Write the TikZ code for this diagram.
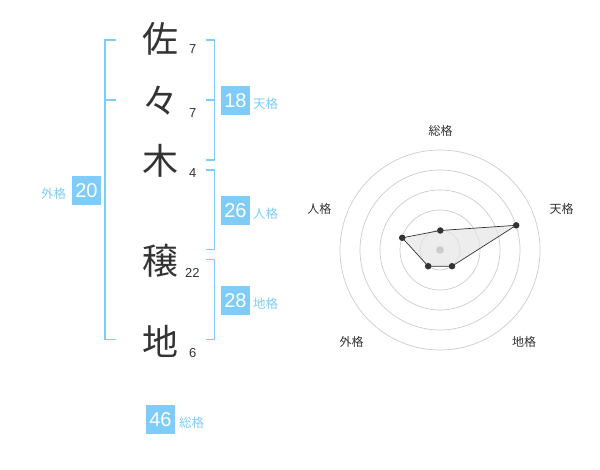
\documentclass[tikz,border=0pt]{standalone}
\usepackage{fontspec}
\setmainfont{Liberation Sans}
\newfontfamily\jp{Noto Sans CJK JP}
\definecolor{sky}{HTML}{80CCF8}
\definecolor{ink}{HTML}{333333}
\begin{document}
\begin{tikzpicture}[x=1pt,y=-1pt,
 kanji/.style={font=\jp\fontsize{36}{36}\selectfont, text=ink, inner sep=0pt},
 strokes/.style={font=\fontsize{13}{13}\selectfont, text=ink, inner sep=0pt},
 scorebox/.style={fill=sky, text=white, minimum size=29pt, inner sep=0pt, font=\fontsize{20}{20}\selectfont},
 scorelabel/.style={font=\jp\fontsize{12.5}{12.5}\selectfont, text=sky, inner sep=0pt},
 bracket/.style={draw=sky, line width=1.5pt},
 ring/.style={draw=black!20, line width=0.7pt},
 axislabel/.style={font=\jp\fontsize{12}{12}\selectfont, text=ink, inner sep=0pt},
 dot/.style={circle, fill=ink, inner sep=0pt, minimum size=6.5pt}]
\useasboundingbox (0,0) rectangle (600,470);
% name characters
\node[kanji] (k1) at (160,39) {佐};
\node[kanji] (k2) at (160,101) {々};
\node[kanji] (k3) at (160,161) {木};
\node[kanji] (k4) at (160,261) {穣};
\node[kanji] (k5) at (160,341) {地};
\node[strokes] (s1) at (192.7,49.5) {7};
\node[strokes] (s2) at (192.7,112.7) {7};
\node[strokes] (s3) at (192.7,172.7) {4};
\node[strokes] (s4) at (192.3,272.7) {22};
\node[strokes] (s5) at (192.7,353.3) {6};
% brackets
\draw[bracket] (116,40) -- (105,40) -- (105,339.5) -- (116,339.5);
\draw[bracket] (105,100) -- (116,100);
\draw[bracket] (206,40) -- (214.5,40) -- (214.5,160) -- (206,160);
\draw[bracket] (214.5,100) -- (206,100);
\draw[bracket] (206,170) -- (214.5,170) -- (214.5,249.5) -- (206,249.5);
\draw[bracket] (206,259.5) -- (214.5,259.5) -- (214.5,339.5) -- (206,339.5);
% scores
\node[scorebox] (ten) at (235.5,100.5) {18};
\node[scorelabel] (tenl) at (265.5,104) {天格};
\node[scorebox] (jin) at (235.5,210.5) {26};
\node[scorelabel] (jinl) at (265.5,214) {人格};
\node[scorebox] (chi) at (235.5,300.5) {28};
\node[scorelabel] (chil) at (265.5,304) {地格};
\node[scorebox] (gai) at (86.5,190.5) {20};
\node[scorelabel] (gail) at (53.5,194) {外格};
\node[scorebox] (sou) at (160.5,419.5) {46};
\node[scorelabel] (soul) at (191.5,423) {総格};
% radar chart
\coordinate (c) at (440,250);
\foreach \r in {20,40,60,80,100} \draw[ring] (c) circle[radius=\r pt];
\coordinate (pS) at (440.3,230.5);
\coordinate (pT) at (516.2,225.3);
\coordinate (pC) at (452.0,266.2);
\coordinate (pG) at (428.2,266.2);
\coordinate (pJ) at (402.2,237.8);
\fill[black!10, fill opacity=0.7] (pS) -- (pT) -- (pC) -- (pG) -- (pJ) -- cycle;
\draw[ink, line width=0.7pt] (pS) -- (pT) -- (pC) -- (pG) -- (pJ) -- cycle;
\fill[black!20] (c) circle[radius=3.8pt];
\foreach \p in {pS,pT,pC,pG,pJ} \node[dot] at (\p) {};
\node[axislabel] (aS) at (440.7,130.5) {総格};
\node[axislabel] (aT) at (561.7,208.5) {天格};
\node[axislabel] (aC) at (524,341.5) {地格};
\node[axislabel] (aG) at (351.7,341.5) {外格};
\node[axislabel] (aJ) at (319.3,208.5) {人格};
\end{tikzpicture}
\end{document}
